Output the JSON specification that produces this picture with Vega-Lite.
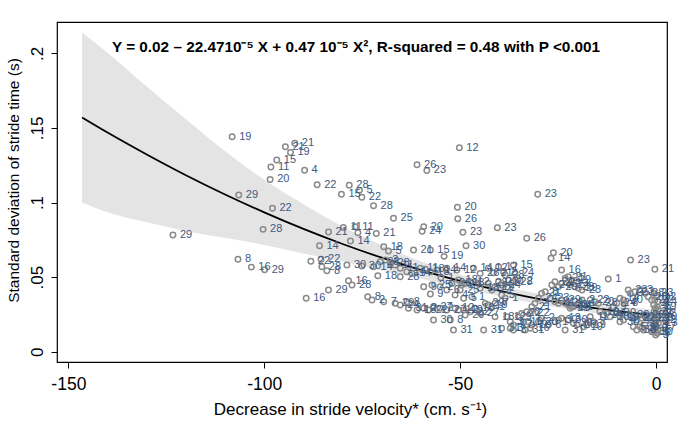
{
"$schema": "https://vega.github.io/schema/vega-lite/v6.json",
"width": 610, "height": 340,
"autosize": {"type": "none"},
"padding": {"left": 57, "top": 22, "right": 18, "bottom": 79},
"background": "white",
"config": {
  "view": {"stroke": "#000", "strokeWidth": 1.2},
  "font": "Liberation Sans",
  "axis": {"grid": false, "domain": false, "tickColor": "#000", "tickSize": 6, "tickWidth": 1, "labelColor": "#000", "titleColor": "#000", "labelFont": "Liberation Sans", "titleFont": "Liberation Sans", "titleFontWeight": "normal"}
},
"title": {"text": "Y = 0.02 – 22.4710⁻⁵ X + 0.47 10⁻⁵ X², R-squared = 0.48 with P <0.001", "anchor": "start", "frame": "group", "orient": "top", "offset": 0, "dx": 55, "dy": 40, "baseline": "middle", "fontSize": 15.3, "fontWeight": "bold", "color": "#000", "font": "Liberation Sans"},
"datasets": {
"fit": [
{"x": -146.5, "fit": 0.157, "lo": 0.1, "hi": 0.214},
{"x": -140, "fit": 0.1469, "lo": 0.0934, "hi": 0.2004},
{"x": -130, "fit": 0.1322, "lo": 0.0867, "hi": 0.1777},
{"x": -120, "fit": 0.1183, "lo": 0.0808, "hi": 0.1558},
{"x": -110, "fit": 0.1054, "lo": 0.0764, "hi": 0.1344},
{"x": -100, "fit": 0.0934, "lo": 0.0716, "hi": 0.1152},
{"x": -90, "fit": 0.0823, "lo": 0.0658, "hi": 0.0988},
{"x": -80, "fit": 0.0722, "lo": 0.0604, "hi": 0.084},
{"x": -70, "fit": 0.063, "lo": 0.0545, "hi": 0.0715},
{"x": -60, "fit": 0.0547, "lo": 0.0489, "hi": 0.0605},
{"x": -50, "fit": 0.0474, "lo": 0.043, "hi": 0.0518},
{"x": -40, "fit": 0.0409, "lo": 0.0372, "hi": 0.0446},
{"x": -30, "fit": 0.0354, "lo": 0.032, "hi": 0.0388},
{"x": -20, "fit": 0.0309, "lo": 0.0276, "hi": 0.0342},
{"x": -10, "fit": 0.0272, "lo": 0.0238, "hi": 0.0306},
{"x": -1.5, "fit": 0.0248, "lo": 0.0212, "hi": 0.0284}
],
"pts": [
{"x": -108.2, "y": 0.1441, "id": 19},
{"x": -92.2, "y": 0.1397, "id": 21},
{"x": -94.6, "y": 0.1374, "id": 21},
{"x": -93.3, "y": 0.1336, "id": 19},
{"x": -96.8, "y": 0.1285, "id": 15},
{"x": -98.3, "y": 0.1238, "id": 11},
{"x": -89.7, "y": 0.1216, "id": 4},
{"x": -98.5, "y": 0.1155, "id": 20},
{"x": -86.5, "y": 0.1119, "id": 22},
{"x": -78.3, "y": 0.1115, "id": 28},
{"x": -80.3, "y": 0.1055, "id": 15},
{"x": -106.5, "y": 0.105, "id": 29},
{"x": -97.9, "y": 0.0961, "id": 22},
{"x": -100.3, "y": 0.082, "id": 28},
{"x": -83.6, "y": 0.0802, "id": 21},
{"x": -79.8, "y": 0.0833, "id": 11},
{"x": -76.8, "y": 0.0838, "id": 11},
{"x": -123.3, "y": 0.0782, "id": 29},
{"x": -75.7, "y": 0.1083, "id": 5},
{"x": -75.1, "y": 0.1036, "id": 22},
{"x": -72.1, "y": 0.0978, "id": 28},
{"x": -67.0, "y": 0.0894, "id": 25},
{"x": -61.0, "y": 0.1253, "id": 26},
{"x": -58.5, "y": 0.1215, "id": 23},
{"x": -50.2, "y": 0.1367, "id": 12},
{"x": -30.2, "y": 0.1055, "id": 23},
{"x": -50.7, "y": 0.0969, "id": 20},
{"x": -50.6, "y": 0.0891, "id": 26},
{"x": -49.3, "y": 0.08, "id": 23},
{"x": -40.5, "y": 0.0831, "id": 23},
{"x": -33.0, "y": 0.076, "id": 26},
{"x": -48.5, "y": 0.071, "id": 30},
{"x": -54.1, "y": 0.0639, "id": 19},
{"x": -59.3, "y": 0.0838, "id": 20},
{"x": -59.7, "y": 0.0807, "id": 24},
{"x": -76.1, "y": 0.0797, "id": 4},
{"x": -71.4, "y": 0.0793, "id": 21},
{"x": -78.0, "y": 0.0742, "id": 14},
{"x": -85.9, "y": 0.071, "id": 14},
{"x": -69.5, "y": 0.0704, "id": 18},
{"x": -68.3, "y": 0.0675, "id": 5},
{"x": -61.9, "y": 0.0681, "id": 21},
{"x": -57.6, "y": 0.0681, "id": 15},
{"x": -26.2, "y": 0.0663, "id": 20},
{"x": -26.8, "y": 0.0626, "id": 14},
{"x": -24.1, "y": 0.0547, "id": 16},
{"x": -6.5, "y": 0.0614, "id": 23},
{"x": -0.3, "y": 0.0552, "id": 21},
{"x": -12.2, "y": 0.0487, "id": 1},
{"x": -88.1, "y": 0.0606, "id": 22},
{"x": -85.5, "y": 0.0619, "id": 22},
{"x": -85.3, "y": 0.057, "id": 28},
{"x": -84.0, "y": 0.0543, "id": 8},
{"x": -78.9, "y": 0.0581, "id": 30},
{"x": -75.1, "y": 0.0574, "id": 30},
{"x": -72.1, "y": 0.057, "id": 14},
{"x": -70.4, "y": 0.0603, "id": 28},
{"x": -69.1, "y": 0.0614, "id": 3},
{"x": -67.8, "y": 0.0592, "id": 28},
{"x": -66.6, "y": 0.0581, "id": 11},
{"x": -65.3, "y": 0.0559, "id": 11},
{"x": -63.6, "y": 0.0536, "id": 14},
{"x": -62.3, "y": 0.0525, "id": 14},
{"x": -60.2, "y": 0.0559, "id": 11},
{"x": -58.9, "y": 0.0552, "id": 18},
{"x": -57.6, "y": 0.0536, "id": 18},
{"x": -55.9, "y": 0.0547, "id": 14},
{"x": -53.4, "y": 0.0559, "id": 14},
{"x": -50.8, "y": 0.0547, "id": 12},
{"x": -71.0, "y": 0.0509, "id": 18},
{"x": -65.3, "y": 0.0503, "id": 28},
{"x": -78.5, "y": 0.0476, "id": 16},
{"x": -77.6, "y": 0.0447, "id": 28},
{"x": -83.6, "y": 0.0413, "id": 29},
{"x": -89.3, "y": 0.0358, "id": 16},
{"x": -106.7, "y": 0.0619, "id": 8},
{"x": -103.3, "y": 0.0567, "id": 16},
{"x": -99.9, "y": 0.0549, "id": 29},
{"x": -54.9, "y": 0.0496, "id": 1},
{"x": -73.6, "y": 0.0369, "id": 8},
{"x": -72.5, "y": 0.0346, "id": 2},
{"x": -69.5, "y": 0.0335, "id": 7},
{"x": -66.6, "y": 0.0324, "id": 29},
{"x": -65.3, "y": 0.0313, "id": 24},
{"x": -63.6, "y": 0.0335, "id": 8},
{"x": -63.2, "y": 0.0291, "id": 31},
{"x": -61.0, "y": 0.0279, "id": 18},
{"x": -59.3, "y": 0.0291, "id": 2},
{"x": -58.1, "y": 0.0279, "id": 22},
{"x": -56.8, "y": 0.0302, "id": 27},
{"x": -55.1, "y": 0.0291, "id": 2},
{"x": -53.4, "y": 0.0279, "id": 27},
{"x": -51.3, "y": 0.0291, "id": 12},
{"x": -49.1, "y": 0.0279, "id": 19},
{"x": -59.3, "y": 0.0436, "id": 9},
{"x": -57.2, "y": 0.0447, "id": 25},
{"x": -55.1, "y": 0.0436, "id": 2},
{"x": -53.4, "y": 0.0413, "id": 6},
{"x": -51.3, "y": 0.038, "id": 4},
{"x": -49.1, "y": 0.0358, "id": 5},
{"x": -47.0, "y": 0.0369, "id": 1},
{"x": -52.1, "y": 0.0458, "id": 26},
{"x": -50.4, "y": 0.048, "id": 18},
{"x": -48.7, "y": 0.0458, "id": 18},
{"x": -56.8, "y": 0.0212, "id": 30},
{"x": -52.5, "y": 0.0212, "id": 8},
{"x": -51.7, "y": 0.0145, "id": 31},
{"x": -57.6, "y": 0.0387, "id": 9},
{"x": -46.6, "y": 0.0559, "id": 14},
{"x": -44.9, "y": 0.0525, "id": 26},
{"x": -42.8, "y": 0.0559, "id": 12},
{"x": -41.5, "y": 0.0529, "id": 21},
{"x": -40.2, "y": 0.057, "id": 12},
{"x": -38.9, "y": 0.0536, "id": 2},
{"x": -36.4, "y": 0.0581, "id": 15},
{"x": -36.0, "y": 0.0525, "id": 24},
{"x": -38.5, "y": 0.0514, "id": 28},
{"x": -37.7, "y": 0.048, "id": 8},
{"x": -36.4, "y": 0.0469, "id": 28},
{"x": -34.7, "y": 0.0476, "id": 2},
{"x": -40.2, "y": 0.0469, "id": 21},
{"x": -39.4, "y": 0.0447, "id": 24},
{"x": -41.1, "y": 0.0436, "id": 19},
{"x": -41.9, "y": 0.0413, "id": 22},
{"x": -49.6, "y": 0.0447, "id": 24},
{"x": -47.4, "y": 0.0469, "id": 12},
{"x": -44.9, "y": 0.0425, "id": 18},
{"x": -42.8, "y": 0.0458, "id": 28},
{"x": -50.0, "y": 0.0413, "id": 25},
{"x": -43.6, "y": 0.0324, "id": 29},
{"x": -42.8, "y": 0.0313, "id": 19},
{"x": -41.9, "y": 0.0298, "id": 1},
{"x": -41.1, "y": 0.0324, "id": 7},
{"x": -39.4, "y": 0.038, "id": 5},
{"x": -38.5, "y": 0.0358, "id": 1},
{"x": -46.2, "y": 0.0291, "id": 18},
{"x": -44.9, "y": 0.0257, "id": 27},
{"x": -47.4, "y": 0.0268, "id": 22},
{"x": -48.7, "y": 0.0246, "id": 29},
{"x": -50.4, "y": 0.0279, "id": 12},
{"x": -41.1, "y": 0.0235, "id": 18},
{"x": -38.1, "y": 0.0235, "id": 12},
{"x": -37.2, "y": 0.0201, "id": 3},
{"x": -36.4, "y": 0.0179, "id": 17},
{"x": -35.1, "y": 0.0235, "id": 9},
{"x": -34.3, "y": 0.0257, "id": 22},
{"x": -33.0, "y": 0.0268, "id": 6},
{"x": -32.1, "y": 0.0257, "id": 22},
{"x": -31.7, "y": 0.0302, "id": 21},
{"x": -30.9, "y": 0.0324, "id": 2},
{"x": -30.0, "y": 0.0358, "id": 24},
{"x": -29.2, "y": 0.0391, "id": 21},
{"x": -28.3, "y": 0.0402, "id": 8},
{"x": -27.0, "y": 0.0358, "id": 23},
{"x": -25.8, "y": 0.0335, "id": 24},
{"x": -24.9, "y": 0.0324, "id": 1},
{"x": -24.1, "y": 0.0346, "id": 29},
{"x": -23.2, "y": 0.0324, "id": 21},
{"x": -22.4, "y": 0.0313, "id": 23},
{"x": -21.5, "y": 0.0302, "id": 14},
{"x": -32.6, "y": 0.0201, "id": 16},
{"x": -31.7, "y": 0.0179, "id": 10},
{"x": -32.1, "y": 0.0157, "id": 16},
{"x": -29.2, "y": 0.0224, "id": 2},
{"x": -30.0, "y": 0.0201, "id": 20},
{"x": -26.6, "y": 0.0447, "id": 24},
{"x": -25.8, "y": 0.0469, "id": 21},
{"x": -24.9, "y": 0.0436, "id": 29},
{"x": -24.1, "y": 0.0458, "id": 24},
{"x": -23.2, "y": 0.0492, "id": 21},
{"x": -22.4, "y": 0.0503, "id": 21},
{"x": -21.5, "y": 0.048, "id": 29},
{"x": -25.8, "y": 0.0201, "id": 1},
{"x": -24.9, "y": 0.0212, "id": 30},
{"x": -24.1, "y": 0.0224, "id": 13},
{"x": -22.4, "y": 0.0212, "id": 30},
{"x": -44.0, "y": 0.0145, "id": 31},
{"x": -39.4, "y": 0.0157, "id": 31},
{"x": -37.2, "y": 0.0157, "id": 3},
{"x": -36.4, "y": 0.0145, "id": 3},
{"x": -33.4, "y": 0.0145, "id": 31},
{"x": -27.5, "y": 0.0179, "id": 6},
{"x": -23.2, "y": 0.0145, "id": 31},
{"x": -33.8, "y": 0.0201, "id": 16},
{"x": -21.9, "y": 0.0447, "id": 24},
{"x": -20.7, "y": 0.0436, "id": 29},
{"x": -19.8, "y": 0.0425, "id": 29},
{"x": -18.9, "y": 0.0413, "id": 23},
{"x": -18.9, "y": 0.0346, "id": 2},
{"x": -18.5, "y": 0.0324, "id": 1},
{"x": -19.8, "y": 0.0313, "id": 4},
{"x": -21.1, "y": 0.0302, "id": 31},
{"x": -21.9, "y": 0.0291, "id": 21},
{"x": -16.8, "y": 0.0346, "id": 22},
{"x": -15.6, "y": 0.0335, "id": 20},
{"x": -14.7, "y": 0.0324, "id": 28},
{"x": -14.3, "y": 0.0268, "id": 19},
{"x": -13.4, "y": 0.0246, "id": 14},
{"x": -12.6, "y": 0.0257, "id": 24},
{"x": -11.7, "y": 0.0235, "id": 20},
{"x": -10.9, "y": 0.0302, "id": 9},
{"x": -10.0, "y": 0.0324, "id": 24},
{"x": -9.2, "y": 0.0358, "id": 14},
{"x": -8.3, "y": 0.0346, "id": 30},
{"x": -7.9, "y": 0.0324, "id": 8},
{"x": -7.1, "y": 0.0413, "id": 23},
{"x": -6.6, "y": 0.0391, "id": 3},
{"x": -5.4, "y": 0.0402, "id": 23},
{"x": -4.1, "y": 0.0413, "id": 3},
{"x": -2.8, "y": 0.0391, "id": 28},
{"x": -2.0, "y": 0.0369, "id": 28},
{"x": -1.1, "y": 0.0346, "id": 22},
{"x": -10.0, "y": 0.0257, "id": 30},
{"x": -9.2, "y": 0.0235, "id": 19},
{"x": -8.3, "y": 0.0212, "id": 4},
{"x": -6.6, "y": 0.0246, "id": 30},
{"x": -5.4, "y": 0.0235, "id": 30},
{"x": -4.9, "y": 0.0212, "id": 4},
{"x": -3.6, "y": 0.0224, "id": 29},
{"x": -2.8, "y": 0.0246, "id": 28},
{"x": -1.5, "y": 0.0224, "id": 22},
{"x": -9.2, "y": 0.0201, "id": 30},
{"x": -18.5, "y": 0.0168, "id": 19},
{"x": -21.1, "y": 0.019, "id": 30},
{"x": -20.2, "y": 0.0179, "id": 20},
{"x": -16.8, "y": 0.0235, "id": 11},
{"x": -16.0, "y": 0.0201, "id": 7},
{"x": -5.8, "y": 0.0168, "id": 5},
{"x": -4.9, "y": 0.0145, "id": 30},
{"x": -3.6, "y": 0.0157, "id": 3},
{"x": -2.8, "y": 0.0179, "id": 9},
{"x": -1.1, "y": 0.0134, "id": 3},
{"x": -0.3, "y": 0.0134, "id": 5},
{"x": -17.7, "y": 0.0179, "id": 19},
{"x": -4.1, "y": 0.0168, "id": 30},
{"x": -3.2, "y": 0.0145, "id": 3},
{"x": -0.5, "y": 0.0391, "id": 23},
{"x": 0.2, "y": 0.0369, "id": 22},
{"x": -0.3, "y": 0.0346, "id": 22},
{"x": 0.5, "y": 0.0335, "id": 14},
{"x": -0.6, "y": 0.0313, "id": 4},
{"x": 0.3, "y": 0.0302, "id": 19},
{"x": -0.2, "y": 0.0291, "id": 2},
{"x": 0.6, "y": 0.0279, "id": 6},
{"x": -0.5, "y": 0.0268, "id": 21},
{"x": 0.2, "y": 0.0257, "id": 12},
{"x": -0.3, "y": 0.0246, "id": 16},
{"x": 0.5, "y": 0.0235, "id": 10},
{"x": -0.6, "y": 0.0224, "id": 26},
{"x": 0.2, "y": 0.0212, "id": 22},
{"x": -0.2, "y": 0.0201, "id": 8},
{"x": 0.6, "y": 0.019, "id": 13},
{"x": -0.5, "y": 0.0179, "id": 3},
{"x": 0.2, "y": 0.0168, "id": 17},
{"x": -0.3, "y": 0.0157, "id": 9},
{"x": 0.5, "y": 0.0145, "id": 5},
{"x": -0.6, "y": 0.0134, "id": 30},
{"x": 0.3, "y": 0.0123, "id": 5},
{"x": -0.1, "y": 0.0112, "id": 3}
]
},
"layer": [
  {
    "data": {"name": "fit"},
    "mark": {"type": "area", "color": "#e4e4e4", "opacity": 1, "interpolate": "monotone"},
    "encoding": {
      "x": {"field": "x", "type": "quantitative", "scale": {"domain": [-152.9, 2.8], "nice": false, "zero": false},
        "axis": {"values": [-150, -100, -50, 0], "labelExpr": "'' + datum.value", "labelFontSize": 17.5, "labelPadding": 7, "title": "Decrease in stride velocity* (cm. s⁻¹)", "titleFontSize": 17, "titlePadding": 9, "titleX": 293}},
      "y": {"field": "lo", "type": "quantitative", "scale": {"domain": [-0.0069, 0.221], "nice": false, "zero": false},
        "axis": {"values": [0, 0.05, 0.1, 0.15, 0.2], "labelExpr": "replace(format(datum.value, '.2~f'), '0.', '.')", "labelAngle": -90, "labelAlign": "center", "labelBaseline": "bottom", "labelFontSize": 17, "labelPadding": 5, "title": "Standard deviation of stride time (s)", "titleFontSize": 15.5, "titlePadding": 7, "titleY": 158}},
      "y2": {"field": "hi"}
    }
  },
  {
    "data": {"name": "fit"},
    "mark": {"type": "line", "color": "#000", "strokeWidth": 1.8, "interpolate": "monotone"},
    "encoding": {
      "x": {"field": "x", "type": "quantitative"},
      "y": {"field": "fit", "type": "quantitative"}
    }
  },
  {
    "data": {"name": "pts"},
    "mark": {"type": "point", "shape": "circle", "filled": false, "color": "#8a8a8a", "size": 30, "strokeWidth": 1.5, "opacity": 1},
    "encoding": {
      "x": {"field": "x", "type": "quantitative"},
      "y": {"field": "y", "type": "quantitative"}
    }
  },
  {
    "data": {"name": "pts"},
    "mark": {"type": "text", "align": "left", "baseline": "middle", "dx": 7, "fontSize": 11, "color": "#3d5a80", "font": "Liberation Sans"},
    "encoding": {
      "x": {"field": "x", "type": "quantitative"},
      "y": {"field": "y", "type": "quantitative"},
      "text": {"field": "id", "type": "nominal"}
    }
  }
]
}
